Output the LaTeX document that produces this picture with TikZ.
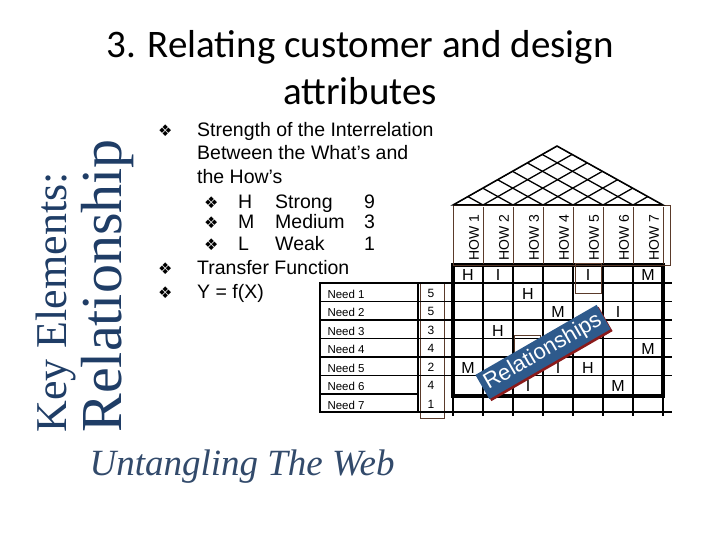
\documentclass[tikz,border=0pt]{standalone}
\usepackage{fontspec}
\setmainfont{Liberation Sans}
\newfontfamily\titlefont{Carlito}
\newfontfamily\serifont{Liberation Serif}
\newfontfamily\symfont{DejaVu Sans}
\usetikzlibrary{shadows}
\definecolor{navy}{HTML}{1F3D66}
\definecolor{banner}{HTML}{2E5A8C}
\definecolor{shadowred}{HTML}{8B1A1A}
\definecolor{thinbrown}{HTML}{5A3A2A}
\tikzset{
  bul/.style={anchor=base west,inner sep=0pt,font=\fontsize{19.5}{20}\selectfont},
  needtxt/.style={anchor=west,font=\fontsize{11.5}{12}\selectfont},
  num/.style={font=\fontsize{12}{12}\selectfont},
  rel/.style={font=\fontsize{16}{16}\selectfont},
  howtxt/.style={rotate=90,anchor=west,font=\fontsize{14}{14}\selectfont}
}
\newcommand{\bsym}{{\symfont\fontsize{16}{16}\selectfont ❖}}
\begin{document}
\begin{tikzpicture}[x=1pt,y=-1pt]
\useasboundingbox (0,0) rectangle (720,540);
% title
\node[font=\titlefont\fontsize{39}{47}\selectfont,align=center] (title) at (360,68) {3. Relating customer and design\\attributes};
% left vertical
\node[rotate=90,font=\serifont\fontsize{44}{44}\selectfont,text=navy,anchor=base west] (key) at (66,436) {Key Elements:};
\node[rotate=90,font=\serifont\fontsize{58}{58}\selectfont,text=navy,anchor=base west] (relw) at (121,436) {Relationship};
% bullets
\node[bul] (b1s) at (158,137) {\bsym};
\node[bul] (b1) at (197,137) {Strength of the Interrelation};
\node[bul] (b1b) at (197,160) {Between the What’s and};
\node[bul] (b1c) at (197,184) {the How’s};
\foreach \y/\a/\b/\c in {208/H/Strong/9, 229/M/Medium/3, 250/L/Weak/1}{
  \node[bul] at (204,\y) {\bsym};
  \node[bul] at (238,\y) {\a};
  \node[bul] at (275,\y) {\b};
  \node[bul] at (364,\y) {\c};
}
\node[bul] (b2s) at (158,274) {\bsym};
\node[bul] (b2) at (197,274) {Transfer Function};
\node[bul] (b3s) at (158,298) {\bsym};
\node[bul] (b3) at (197,298) {Y = f(X)};
% need table
\draw[line width=1.3] (320,283) rectangle (418,412);
\foreach \i/\y in {1/283,2/301.5,3/320,4/338.5,5/357,6/375.5,7/394}{
  \node[needtxt] at (324,\y+11) {Need \i};
}
\foreach \y in {301.5,320,338.5,357,375.5,394}{\draw[line width=1.3] (320,\y) -- (418,\y);}
% number column
\draw[thinbrown,line width=0.6] (420,283) rectangle (444,418);
\foreach \n/\y in {5/283,5/301.5,3/320,4/338.5,2/357,4/375.5,1/394}{
  \node[num] at (431,\y+10) {\n};
}
% matrix grid
\foreach \y in {283,301.5,320,338.5,357,375.5,412}{\draw[line width=1.3] (418,\y) -- (672,\y);}
\foreach \x in {483,513,543,573,603,633}{\draw[line width=1.3] (\x,265) -- (\x,416);}
\draw[line width=1.3] (453,396) -- (453,416) (663,396)--(663,416);
\draw[line width=3.2] (453,265) rectangle (663,396);
% header
\draw[thinbrown,line width=0.7] (453,205) rectangle (670,265);
\begin{scope}
\clip (453,208) rectangle (670,263);
\foreach \k in {1,...,7}{
  \node[howtxt] at ({453+30*\k-9},264) {HOW \k};
  \draw[thinbrown,line width=0.7] ({453+30*\k},205) -- ({453+30*\k},265);
}
\end{scope}
% roof
\begin{scope}
\clip (453,205) -- (557,146) -- (663,205) -- cycle;
\foreach \i in {0,...,7}{
  \draw[line width=1.3] ({453+30*\i},205) -- ++(104*1.2,-59*1.2);
  \draw[line width=1.3] ({453+30*\i},205) -- ++(-106*1.2,-59*1.2);
}
\end{scope}
\draw[line width=1.5] (453,205) -- (557,146) -- (663,205) -- cycle;
% relationships letters
\foreach \c/\r/\t in {1/0/H,2/0/I,5/0/I,7/0/M,3/1/H,4/2/M,6/2/I,2/3/H,7/4/M,1/5/M,4/5/I,5/5/H,3/6/I,6/6/M}{
  \node[rel] at ({453+30*\c-15},{265+18.5*\r+10}) {\t};
}
\draw[thinbrown,line width=0.6] (575,263) rectangle (601,293);
\draw[thinbrown,line width=0.6] (514,335) rectangle (540,360);
% banner
\node[rotate=30,fill=banner,text=white,minimum width=140,minimum height=28,
  font=\fontsize{22}{22}\selectfont,inner sep=1pt,
  drop shadow={shadow xshift=2pt,shadow yshift=-2pt,fill=shadowred,opacity=1}] (banner) at (543,352) {Relationships};
% footer
\node[font=\serifont\itshape\fontsize{37}{37}\selectfont,text=navy!80!gray] (utw) at (242,467) {Untangling The Web};
\end{tikzpicture}
\end{document}
